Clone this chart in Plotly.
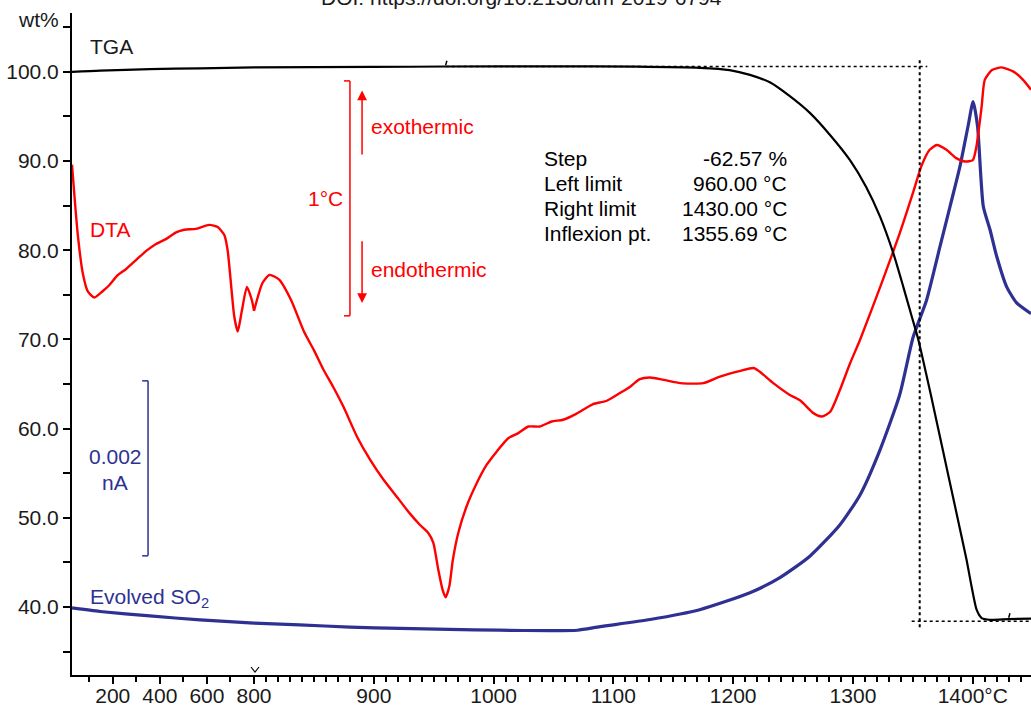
import plotly.graph_objects as go

# ---------------------------------------------------------------------------
# Data: temperature (deg C) and signal, all on the wt% scale of the left axis
# ---------------------------------------------------------------------------
tga_temp = [27, 146, 358, 571, 800, 900, 960, 1050, 1120, 1172, 1197, 1214, 1231,
            1247, 1264, 1281, 1297.5, 1311, 1322.5, 1333.6, 1342, 1349, 1354.5,
            1365, 1375, 1385, 1394.8, 1399, 1403.2, 1407.4, 1414.4, 1430, 1448.6]
tga_wt = [100.0, 100.15, 100.3, 100.4, 100.5, 100.55, 100.6, 100.62, 100.58, 100.45,
          100.2, 99.66, 98.8, 97.3, 95.4, 92.9, 90.1, 87.1, 83.8, 79.7, 75.9, 72.6,
          70.0, 63.8, 57.6, 51.4, 45.3, 42.3, 39.7, 38.76, 38.57, 38.65, 38.7]

dta_temp = [27, 51, 73, 94, 122, 157, 186, 221, 257, 299, 341, 384, 426, 469, 504,
            554, 610, 646, 674, 688, 702, 716, 731, 749, 770, 791, 800, 807, 813,
            821, 831, 842, 850, 858, 866, 874.5, 886, 897, 908, 919, 930, 938.6,
            945.5, 949.7, 953.8, 957.5, 960, 963, 966, 970.5, 977.5, 986, 994,
            1003, 1012, 1020.6, 1029, 1038.7, 1048.5, 1058, 1069, 1083, 1094,
            1105.5, 1114, 1122, 1130.5, 1142, 1156, 1175, 1189, 1206, 1217, 1222,
            1233.5, 1247, 1256, 1267, 1274, 1281, 1289, 1297.5, 1306, 1325, 1339,
            1350, 1357, 1364, 1370, 1378, 1386.5, 1393.5, 1400, 1403, 1407.4,
            1410, 1416, 1424, 1434, 1442, 1448.6]
dta_sig = [89.6, 81.9, 77.4, 75.4, 74.7, 75.4, 76.1, 77.2, 77.9, 78.9, 79.9, 80.7,
           81.25, 82.0, 82.3, 82.4, 82.85, 82.6, 81.7, 80.0, 76.3, 72.6, 70.9, 73.3,
           75.9, 74.4, 73.2, 76.3, 77.24, 76.7, 74.4, 70.8, 68.8, 66.6, 64.7, 62.5,
           59.1, 56.5, 54.3, 52.4, 50.5, 49.2, 48.3, 47.2, 44.2, 41.9, 41.1, 42.3,
           45.3, 48.3, 51.3, 53.9, 55.9, 57.5, 58.9, 59.5, 60.24, 60.24, 60.8, 61.0,
           61.66, 62.75, 63.1, 64.0, 64.7, 65.55, 65.73, 65.47, 65.1, 65.1, 65.84,
           66.48, 66.8, 66.4, 65.1, 63.8, 63.15, 61.74, 61.36, 61.9, 64.3, 67.3,
           70.0, 76.7, 81.9, 86.4, 89.4, 91.26, 91.8, 91.26, 90.3, 89.95, 90.1,
           91.6, 96.1, 99.1, 100.2, 100.5, 100.03, 99.1, 98.0]

so2_temp = [27, 146, 358, 571, 800, 838, 880, 922, 963, 1005, 1047, 1070, 1089,
            1130.6, 1172, 1214, 1239, 1264, 1289, 1306, 1322.5, 1339, 1350.3,
            1361.4, 1372.6, 1381, 1389.3, 1396, 1400.3, 1404, 1408.8, 1414.4, 1420,
            1428.3, 1436.6, 1448.6]
so2_sig = [39.9, 39.5, 39.0, 38.55, 38.2, 38.0, 37.75, 37.6, 37.5, 37.4, 37.35, 37.4,
           37.8, 38.6, 39.7, 41.6, 43.3, 45.7, 49.2, 52.6, 57.6, 63.8, 70.3, 74.4,
           80.4, 84.9, 89.4, 93.87, 96.67, 93.87, 84.9, 82.3, 79.3, 75.9, 74.1, 72.9]

step_labels = ["Step", "Left limit", "Right limit", "Inflexion pt."]
step_values = ["-62.57 %", "960.00 °C", "1430.00 °C", "1355.69 °C"]
left_limit, right_limit, inflexion = 960.0, 1430.0, 1355.69
tga_upper, tga_lower = 100.6, 38.4

x_low_major = [200, 400, 600, 800]
x_low_minor = [100, 300, 500, 700]
x_high_major = [900, 1000, 1100, 1200, 1300, 1400]
x_high_text = ["900", "1000", "1100", "1200", "1300", "1400°C"]
y_ticks = [35, 40, 45, 50, 55, 60, 65, 70, 75, 80, 85, 90, 95, 100, 105]

# ---------------------------------------------------------------------------
# Layout constants
# ---------------------------------------------------------------------------
W, H = 1031, 707
ML, MR, MT, MB = 72, 0, 13, 32
BREAK = 800
X_LOW = [27, BREAK]
X_HIGH = [BREAK, 1448.6]
Y_RANGE = [32.38, 106.6]
SPLIT = 182 / (W - ML - MR)

FONT = "Liberation Sans, Arial, sans-serif"
FS = 21
INK = "#1a1a1a"
RED = "#ff0000"
NAVY = "#2e3192"


def split(temps, vals):
    lo = [(t, v) for t, v in zip(temps, vals) if t <= BREAK]
    hi = [(t, v) for t, v in zip(temps, vals) if t >= BREAK]
    return lo, hi


fig = go.Figure()

for temps, vals, color, width in [(so2_temp, so2_sig, NAVY, 3.2),
                                  (dta_temp, dta_sig, RED, 2.4),
                                  (tga_temp, tga_wt, "black", 2.2)]:
    lo, hi = split(temps, vals)
    for pts, xa in [(lo, "x"), (hi, "x2")]:
        fig.add_trace(go.Scatter(
            x=[p[0] for p in pts], y=[p[1] for p in pts], xaxis=xa, yaxis="y",
            mode="lines", line=dict(color=color, width=width, shape="spline", smoothing=0.6),
            cliponaxis=True, hoverinfo="skip", showlegend=False))

axis_common = dict(showgrid=False, zeroline=False, showline=True, linecolor="black",
                   linewidth=2, ticks="outside", tickcolor="black", tickwidth=1.5,
                   automargin=False,
                   tickfont=dict(family=FONT, size=FS, color=INK))

minor_x = dict(ticklen=5, ticks="outside", tickcolor="black", tickwidth=1.5)

fig.update_layout(
    width=W, height=H, autosize=False, margin=dict(l=ML, r=MR, t=MT, b=MB, pad=0),
    paper_bgcolor="white", plot_bgcolor="white", showlegend=False,
    font=dict(family=FONT, size=FS, color=INK),
    xaxis=dict(domain=[0, SPLIT], range=X_LOW, anchor="y", tickmode="array",
               tickvals=x_low_major, ticktext=[str(v) for v in x_low_major], ticklen=7,
               ticklabelstandoff=-6,
               minor=dict(tickmode="array", tickvals=x_low_minor, **minor_x),
               **axis_common),
    xaxis2=dict(domain=[SPLIT, 1], range=X_HIGH, anchor="y", tickmode="array",
                tickvals=x_high_major, ticktext=x_high_text, ticklen=7,
                ticklabelstandoff=-6,
                minor=dict(tickmode="array",
                           tickvals=[t for t in range(810, 1450, 10) if t % 100],
                           **minor_x),
                **axis_common),
    yaxis=dict(range=Y_RANGE, anchor="x", tickmode="array", tickvals=y_ticks,
               ticktext=[f"{v:.1f}" if v % 10 == 0 else "" for v in y_ticks],
               ticklen=7, **axis_common),
)

shapes = []
ann = []

# step-evaluation guide lines on the TGA curve
dash_h = dict(color="black", width=1.6, dash="3px,3px")
shapes.append(dict(type="line", xref="x2", yref="y", x0=left_limit, x1=1362,
                   y0=tga_upper, y1=tga_upper, line=dash_h))
shapes.append(dict(type="line", xref="x2", yref="y", x0=1349, x1=X_HIGH[1],
                   y0=tga_lower, y1=tga_lower, line=dash_h))
shapes.append(dict(type="line", xref="x2", yref="y", x0=inflexion, x1=inflexion,
                   y0=101.3, y1=37.7, line=dict(color="black", width=2, dash="dot")))
for xm, ym in [(left_limit, tga_upper), (right_limit, 38.65)]:
    shapes.append(dict(type="line", xref="x2", yref="y", x0=xm, x1=xm + 1,
                       y0=ym + 0.15, y1=ym + 0.65, line=dict(color="black", width=1.5)))


def px(xp):
    return (xp - ML) / (W - ML - MR)


def py(yp):
    return (H - MB - yp) / (H - MT - MB)


# axis-break chevron at 800 degC
shapes.append(dict(type="path", xref="paper", yref="paper",
                   path=f"M {px(251)} {py(667)} L {px(255)} {py(672)} L {px(259)} {py(667)}",
                   line=dict(color="black", width=1.2)))

# DTA scale bar (1 degC)
bar_x = 880.1
shapes.append(dict(type="line", xref="x2", yref="y", x0=bar_x, x1=bar_x, y0=98.99, y1=72.65,
                   line=dict(color=RED, width=1.5)))
for yv in (98.99, 72.65):
    shapes.append(dict(type="line", xref="x2", yref="y", x0=bar_x - 5, x1=bar_x, y0=yv, y1=yv,
                       line=dict(color=RED, width=1.5)))
ann.append(dict(text="1°C", xref="x2", yref="y", x=876, y=85.76, xanchor="right",
                yanchor="middle", showarrow=False, font=dict(color=RED, size=FS)))
for y_head, y_tail in [(97.9, 90.58), (74.1, 81.17)]:
    ann.append(dict(text="", xref="x2", yref="y", axref="x2", ayref="y", x=890.2, y=y_head,
                    ax=890.2, ay=y_tail, showarrow=True, arrowhead=2, arrowsize=1.3,
                    arrowwidth=1.5, arrowcolor=RED))
ann.append(dict(text="exothermic", xref="x2", yref="y", x=896, y=93.83, xanchor="left",
                yanchor="middle", showarrow=False, font=dict(color=RED, size=FS)))
ann.append(dict(text="endothermic", xref="x2", yref="y", x=896, y=77.8, xanchor="left",
                yanchor="middle", showarrow=False, font=dict(color=RED, size=FS)))

# SO2 scale bar (0.002 nA)
nav_x = 350
shapes.append(dict(type="line", xref="x", yref="y", x0=nav_x, x1=nav_x, y0=65.36, y1=45.74,
                   line=dict(color=NAVY, width=1.5)))
for yv in (65.36, 45.74):
    shapes.append(dict(type="line", xref="x", yref="y", x0=nav_x - 25, x1=nav_x, y0=yv, y1=yv,
                       line=dict(color=NAVY, width=1.5)))
ann.append(dict(text="0.002", xref="x", yref="y", x=210, y=56.84, xanchor="center",
                yanchor="middle", showarrow=False, font=dict(color=NAVY, size=FS)))
ann.append(dict(text="nA", xref="x", yref="y", x=210, y=53.92, xanchor="center",
                yanchor="middle", showarrow=False, font=dict(color=NAVY, size=FS)))

# series labels
ann.append(dict(text="TGA", xref="x", yref="y", x=95, y=102.8, xanchor="left",
                yanchor="middle", showarrow=False, font=dict(color=INK, size=FS)))
ann.append(dict(text="DTA", xref="x", yref="y", x=95, y=82.3, xanchor="left",
                yanchor="middle", showarrow=False, font=dict(color=RED, size=FS)))
ann.append(dict(text="Evolved SO<sub>2</sub>", xref="x", yref="y", x=95, y=41.0,
                xanchor="left", yanchor="middle", showarrow=False,
                font=dict(color=NAVY, size=FS)))
ann.append(dict(text="wt%", xref="paper", yref="paper", x=px(61), y=py(20),
                xanchor="right", yanchor="middle", showarrow=False,
                font=dict(color=INK, size=FS)))

# step evaluation table
for i, (lab, val) in enumerate(zip(step_labels, step_values)):
    yv = 90.25 - i * 2.8
    ann.append(dict(text=lab, xref="x2", yref="y", x=1040.4, y=yv, xanchor="left",
                    yanchor="middle", showarrow=False, font=dict(color="black", size=FS)))
    ann.append(dict(text=val, xref="x2", yref="y", x=1246.6, y=yv, xanchor="right",
                    yanchor="middle", showarrow=False, font=dict(color="black", size=FS)))

# source reference
ann.append(dict(text="DOI: https://doi.org/10.2138/am-2019-6794", xref="paper",
                yref="paper", x=px(521), y=py(11), xanchor="center", yanchor="bottom",
                showarrow=False, font=dict(color=INK, size=FS)))

fig.update_layout(shapes=shapes, annotations=ann)
fig.write_html("out.html")
